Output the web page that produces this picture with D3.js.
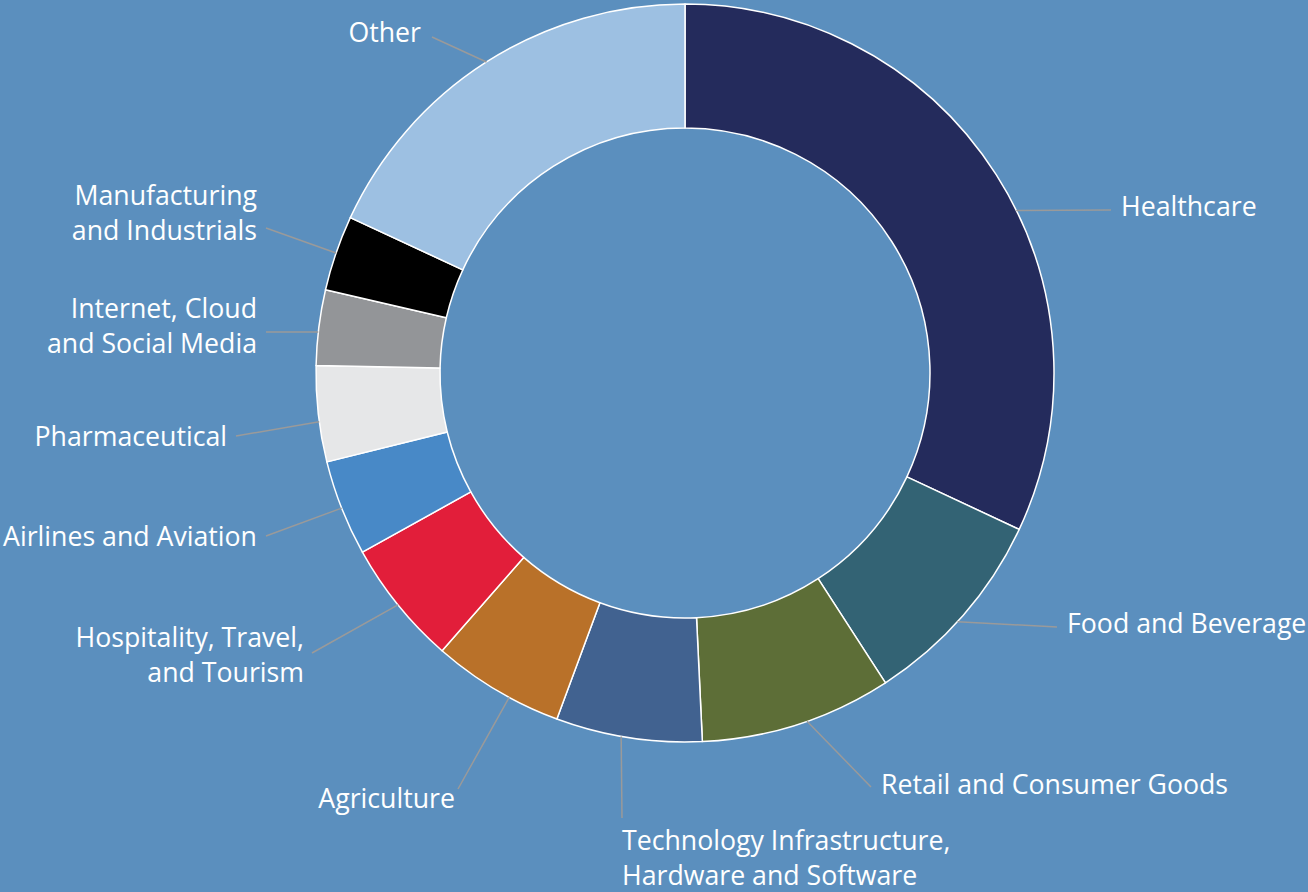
<!DOCTYPE html>
<html>
<head>
<meta charset="utf-8">
<script src="https://cdn.jsdelivr.net/npm/d3@7"></script>
<style>
  html, body { margin: 0; padding: 0; background: #5b8fbe; }
  svg { display: block; }
  .label { font-family: "Open Sans", sans-serif; font-size: 26.7px; fill: #ffffff; }
</style>
</head>
<body>
<div id="chart"></div>
<script>
// industry share (%), clockwise from 12 o'clock
const categories = [
  'Healthcare', 'Food and Beverage', 'Retail and Consumer Goods',
  'Technology Infrastructure, Hardware and Software', 'Agriculture',
  'Hospitality, Travel, and Tourism', 'Airlines and Aviation', 'Pharmaceutical',
  'Internet, Cloud and Social Media', 'Manufacturing and Industrials', 'Other'
];
const values = [32.0, 8.9, 8.4, 6.4, 5.8, 5.5, 4.2, 4.2, 3.3, 3.3, 18.1];
// how each label is broken onto lines
const labelLines = [
  ['Healthcare'], ['Food and Beverage'], ['Retail and Consumer Goods'],
  ['Technology Infrastructure,', 'Hardware and Software'], ['Agriculture'],
  ['Hospitality, Travel,', 'and Tourism'], ['Airlines and Aviation'], ['Pharmaceutical'],
  ['Internet, Cloud', 'and Social Media'], ['Manufacturing', 'and Industrials'], ['Other']
];
const colors = [
  '#242b5c', '#336374', '#5d6e37', '#416290', '#b97129', '#e21e3a',
  '#4889c7', '#e6e7e8', '#939598', '#000000', '#9dc0e2'
];

const width = 1308;
const height = 892;
const cx = 685, cy = 373;
const outerR = 369, innerR = 245;
const lineH = 35;

// label placement (text pos, anchor, leader end, where on the slice the leader starts)
const labelLayout = [
  { tx: 1121, ty: 216, anchor: 'start', lx: 1111, ly: 210, at: 0.555 },
  { tx: 1067, ty: 633, anchor: 'start', lx: 1057, ly: 627, at: 0.54 },
  { tx: 881,  ty: 794, anchor: 'start', lx: 871,  ly: 787, at: 0.45 },
  { tx: 622,  ty: 850, anchor: 'start', lx: 622,  ly: 818, at: 0.55 },
  { tx: 455,  ty: 808, anchor: 'end',   lx: 458,  ly: 789, at: 0.39 },
  { tx: 304,  ty: 647, anchor: 'end',   lx: 312,  ly: 653, at: 0.5 },
  { tx: 257,  ty: 546, anchor: 'end',   lx: 266,  ly: 536, at: 0.5 },
  { tx: 227,  ty: 446, anchor: 'end',   lx: 236,  ly: 436, at: 0.42 },
  { tx: 257,  ty: 318, anchor: 'end',   lx: 266,  ly: 332, at: 0.44 },
  { tx: 257,  ty: 205, anchor: 'end',   lx: 266,  ly: 228, at: 0.5 },
  { tx: 421,  ty: 42,  anchor: 'end',   lx: 432,  ly: 37,  at: 0.5 }
];

const data = categories.map((c, i) => ({ category: c, value: values[i], i }));

const svg = d3.select('#chart')
  .append('svg')
  .attr('width', width)
  .attr('height', height);

svg.append('rect')
  .attr('width', width)
  .attr('height', height)
  .attr('fill', '#5b8fbe');

const pie = d3.pie()
  .sort(null)
  .value(d => d.value);

const arcs = pie(data);

const arc = d3.arc()
  .innerRadius(innerR)
  .outerRadius(outerR);

const g = svg.append('g')
  .attr('transform', `translate(${cx}, ${cy})`);

g.selectAll('.slice')
  .data(arcs)
  .enter()
  .append('path')
  .attr('class', 'slice')
  .attr('d', arc)
  .attr('fill', d => colors[d.data.i])
  .attr('stroke', '#ffffff')
  .attr('stroke-width', 1.5)
  .attr('stroke-linejoin', 'round');

// leader lines: from the outer edge of the slice to the label
const leaders = svg.append('g');
arcs.forEach(d => {
  const lay = labelLayout[d.data.i];
  const a = d.startAngle + (d.endAngle - d.startAngle) * lay.at;
  const x0 = cx + outerR * Math.sin(a);
  const y0 = cy - outerR * Math.cos(a);
  leaders.append('line')
    .attr('x1', x0)
    .attr('y1', y0)
    .attr('x2', lay.lx)
    .attr('y2', lay.ly)
    .attr('stroke', '#9a9a9a')
    .attr('stroke-width', 1.5);
});

const labels = svg.append('g');
data.forEach(d => {
  const lay = labelLayout[d.i];
  const t = labels.append('text')
    .attr('class', 'label')
    .attr('text-anchor', lay.anchor)
    .attr('x', lay.tx)
    .attr('y', lay.ty);
  labelLines[d.i].forEach((line, k) => {
    t.append('tspan')
      .attr('x', lay.tx)
      .attr('y', lay.ty + k * lineH)
      .text(line);
  });
});
</script>
</body>
</html>
